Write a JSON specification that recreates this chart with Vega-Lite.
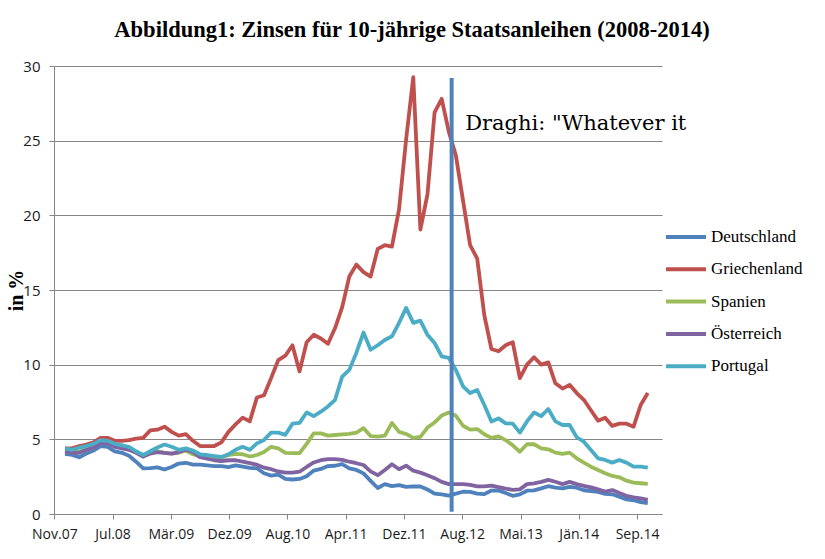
{
  "$schema": "https://vega.github.io/schema/vega-lite/v6.json",
  "width": 608,
  "height": 448,
  "autosize": {"type": "none"},
  "padding": {"left": 54, "top": 66, "right": 163, "bottom": 45},
  "background": "white",
  "title": {
    "text": "Abbildung1: Zinsen für 10-jährige Staatsanleihen (2008-2014)",
    "font": "Liberation Serif",
    "fontSize": 22.5,
    "fontWeight": "bold",
    "color": "#000000",
    "anchor": "middle",
    "dx": 54,
    "offset": 18
  },
  "config": {
    "view": {"stroke": null}
  },
  "datasets": {
    "zinsen": [
      {"t":0,"Deutschland":4.02,"Griechenland":4.40,"Spanien":4.20,"Österreich":4.20,"Portugal":4.40},
      {"t":1,"Deutschland":3.96,"Griechenland":4.40,"Spanien":4.15,"Österreich":4.10,"Portugal":4.30},
      {"t":2,"Deutschland":3.80,"Griechenland":4.55,"Spanien":4.20,"Österreich":4.10,"Portugal":4.45},
      {"t":3,"Deutschland":4.05,"Griechenland":4.65,"Spanien":4.30,"Österreich":4.30,"Portugal":4.55},
      {"t":4,"Deutschland":4.25,"Griechenland":4.80,"Spanien":4.45,"Österreich":4.45,"Portugal":4.70},
      {"t":5,"Deutschland":4.55,"Griechenland":5.10,"Spanien":4.80,"Österreich":4.75,"Portugal":4.95},
      {"t":6,"Deutschland":4.50,"Griechenland":5.10,"Spanien":4.80,"Österreich":4.75,"Portugal":4.90},
      {"t":7,"Deutschland":4.20,"Griechenland":4.90,"Spanien":4.60,"Österreich":4.50,"Portugal":4.70},
      {"t":8,"Deutschland":4.10,"Griechenland":4.90,"Spanien":4.60,"Österreich":4.40,"Portugal":4.60},
      {"t":9,"Deutschland":3.90,"Griechenland":4.95,"Spanien":4.40,"Österreich":4.30,"Portugal":4.50},
      {"t":10,"Deutschland":3.50,"Griechenland":5.05,"Spanien":4.15,"Österreich":4.10,"Portugal":4.20},
      {"t":11,"Deutschland":3.05,"Griechenland":5.10,"Spanien":3.85,"Österreich":3.85,"Portugal":3.95},
      {"t":12,"Deutschland":3.07,"Griechenland":5.60,"Spanien":4.10,"Österreich":4.05,"Portugal":4.20},
      {"t":13,"Deutschland":3.12,"Griechenland":5.65,"Spanien":4.20,"Österreich":4.15,"Portugal":4.45},
      {"t":14,"Deutschland":2.98,"Griechenland":5.85,"Spanien":4.10,"Österreich":4.10,"Portugal":4.65},
      {"t":15,"Deutschland":3.15,"Griechenland":5.50,"Spanien":4.05,"Österreich":4.05,"Portugal":4.50},
      {"t":16,"Deutschland":3.38,"Griechenland":5.25,"Spanien":4.10,"Österreich":4.15,"Portugal":4.30},
      {"t":17,"Deutschland":3.43,"Griechenland":5.35,"Spanien":4.25,"Österreich":4.30,"Portugal":4.40},
      {"t":18,"Deutschland":3.31,"Griechenland":4.90,"Spanien":4.00,"Österreich":4.15,"Portugal":4.25},
      {"t":19,"Deutschland":3.30,"Griechenland":4.55,"Spanien":3.85,"Österreich":3.80,"Portugal":4.00},
      {"t":20,"Deutschland":3.25,"Griechenland":4.55,"Spanien":3.85,"Österreich":3.70,"Portugal":3.95},
      {"t":21,"Deutschland":3.20,"Griechenland":4.55,"Spanien":3.80,"Österreich":3.60,"Portugal":3.88},
      {"t":22,"Deutschland":3.20,"Griechenland":4.80,"Spanien":3.78,"Österreich":3.55,"Portugal":3.82},
      {"t":23,"Deutschland":3.14,"Griechenland":5.50,"Spanien":3.95,"Österreich":3.60,"Portugal":4.00},
      {"t":24,"Deutschland":3.26,"Griechenland":6.00,"Spanien":4.02,"Österreich":3.60,"Portugal":4.30},
      {"t":25,"Deutschland":3.17,"Griechenland":6.45,"Spanien":4.00,"Österreich":3.50,"Portugal":4.50},
      {"t":26,"Deutschland":3.09,"Griechenland":6.20,"Spanien":3.85,"Österreich":3.40,"Portugal":4.30},
      {"t":27,"Deutschland":3.06,"Griechenland":7.80,"Spanien":3.95,"Österreich":3.30,"Portugal":4.73},
      {"t":28,"Deutschland":2.73,"Griechenland":7.95,"Spanien":4.15,"Österreich":3.10,"Portugal":4.96},
      {"t":29,"Deutschland":2.57,"Griechenland":9.10,"Spanien":4.50,"Österreich":3.00,"Portugal":5.45},
      {"t":30,"Deutschland":2.63,"Griechenland":10.30,"Spanien":4.40,"Österreich":2.85,"Portugal":5.45},
      {"t":31,"Deutschland":2.35,"Griechenland":10.60,"Spanien":4.10,"Österreich":2.77,"Portugal":5.30},
      {"t":32,"Deutschland":2.31,"Griechenland":11.30,"Spanien":4.07,"Österreich":2.77,"Portugal":6.05},
      {"t":33,"Deutschland":2.35,"Griechenland":9.55,"Spanien":4.07,"Österreich":2.83,"Portugal":6.10},
      {"t":34,"Deutschland":2.53,"Griechenland":11.50,"Spanien":4.70,"Österreich":3.15,"Portugal":6.80},
      {"t":35,"Deutschland":2.91,"Griechenland":12.00,"Spanien":5.40,"Österreich":3.45,"Portugal":6.55},
      {"t":36,"Deutschland":3.02,"Griechenland":11.75,"Spanien":5.40,"Österreich":3.60,"Portugal":6.85},
      {"t":37,"Deutschland":3.21,"Griechenland":11.40,"Spanien":5.25,"Österreich":3.68,"Portugal":7.20},
      {"t":38,"Deutschland":3.23,"Griechenland":12.45,"Spanien":5.29,"Österreich":3.68,"Portugal":7.65},
      {"t":39,"Deutschland":3.34,"Griechenland":13.85,"Spanien":5.33,"Österreich":3.62,"Portugal":9.20},
      {"t":40,"Deutschland":3.06,"Griechenland":15.90,"Spanien":5.36,"Österreich":3.50,"Portugal":9.65},
      {"t":41,"Deutschland":2.95,"Griechenland":16.70,"Spanien":5.45,"Österreich":3.40,"Portugal":10.80},
      {"t":42,"Deutschland":2.72,"Griechenland":16.20,"Spanien":5.75,"Österreich":3.28,"Portugal":12.15},
      {"t":43,"Deutschland":2.22,"Griechenland":15.90,"Spanien":5.22,"Österreich":2.85,"Portugal":11.00},
      {"t":44,"Deutschland":1.74,"Griechenland":17.75,"Spanien":5.18,"Österreich":2.60,"Portugal":11.30},
      {"t":45,"Deutschland":2.00,"Griechenland":18.00,"Spanien":5.25,"Österreich":2.95,"Portugal":11.65},
      {"t":46,"Deutschland":1.87,"Griechenland":17.90,"Spanien":6.10,"Österreich":3.33,"Portugal":11.90},
      {"t":47,"Deutschland":1.93,"Griechenland":20.40,"Spanien":5.50,"Österreich":3.00,"Portugal":12.80},
      {"t":48,"Deutschland":1.82,"Griechenland":25.10,"Spanien":5.36,"Österreich":3.24,"Portugal":13.80},
      {"t":49,"Deutschland":1.85,"Griechenland":29.25,"Spanien":5.10,"Österreich":2.90,"Portugal":12.80},
      {"t":50,"Deutschland":1.84,"Griechenland":19.05,"Spanien":5.17,"Österreich":2.77,"Portugal":12.95},
      {"t":51,"Deutschland":1.64,"Griechenland":21.40,"Spanien":5.79,"Österreich":2.60,"Portugal":12.00},
      {"t":52,"Deutschland":1.37,"Griechenland":26.90,"Spanien":6.13,"Österreich":2.40,"Portugal":11.45},
      {"t":53,"Deutschland":1.32,"Griechenland":27.80,"Spanien":6.59,"Österreich":2.15,"Portugal":10.55},
      {"t":54,"Deutschland":1.23,"Griechenland":25.60,"Spanien":6.79,"Österreich":2.00,"Portugal":10.45},
      {"t":55,"Deutschland":1.36,"Griechenland":24.00,"Spanien":6.58,"Österreich":2.00,"Portugal":9.65},
      {"t":56,"Deutschland":1.49,"Griechenland":21.00,"Spanien":5.91,"Österreich":2.00,"Portugal":8.55},
      {"t":57,"Deutschland":1.48,"Griechenland":18.00,"Spanien":5.65,"Österreich":1.95,"Portugal":8.10},
      {"t":58,"Deutschland":1.37,"Griechenland":17.10,"Spanien":5.69,"Österreich":1.85,"Portugal":8.30},
      {"t":59,"Deutschland":1.33,"Griechenland":13.30,"Spanien":5.34,"Österreich":1.85,"Portugal":7.30},
      {"t":60,"Deutschland":1.57,"Griechenland":11.05,"Spanien":5.10,"Österreich":1.90,"Portugal":6.20},
      {"t":61,"Deutschland":1.58,"Griechenland":10.90,"Spanien":5.20,"Österreich":1.80,"Portugal":6.40},
      {"t":62,"Deutschland":1.40,"Griechenland":11.30,"Spanien":4.95,"Österreich":1.70,"Portugal":6.07},
      {"t":63,"Deutschland":1.22,"Griechenland":11.50,"Spanien":4.60,"Österreich":1.62,"Portugal":6.05},
      {"t":64,"Deutschland":1.31,"Griechenland":9.10,"Spanien":4.17,"Österreich":1.65,"Portugal":5.45},
      {"t":65,"Deutschland":1.56,"Griechenland":10.00,"Spanien":4.67,"Österreich":2.00,"Portugal":6.20},
      {"t":66,"Deutschland":1.58,"Griechenland":10.50,"Spanien":4.67,"Österreich":2.05,"Portugal":6.80},
      {"t":67,"Deutschland":1.72,"Griechenland":10.00,"Spanien":4.40,"Österreich":2.15,"Portugal":6.55},
      {"t":68,"Deutschland":1.86,"Griechenland":10.15,"Spanien":4.33,"Österreich":2.28,"Portugal":7.03},
      {"t":69,"Deutschland":1.76,"Griechenland":8.75,"Spanien":4.11,"Österreich":2.16,"Portugal":6.20},
      {"t":70,"Deutschland":1.71,"Griechenland":8.40,"Spanien":4.02,"Österreich":2.00,"Portugal":5.96},
      {"t":71,"Deutschland":1.82,"Griechenland":8.65,"Spanien":4.11,"Österreich":2.15,"Portugal":5.96},
      {"t":72,"Deutschland":1.76,"Griechenland":8.10,"Spanien":3.73,"Österreich":2.00,"Portugal":5.14},
      {"t":73,"Deutschland":1.59,"Griechenland":7.65,"Spanien":3.44,"Österreich":1.88,"Portugal":4.84},
      {"t":74,"Deutschland":1.54,"Griechenland":6.95,"Spanien":3.17,"Österreich":1.79,"Portugal":4.29},
      {"t":75,"Deutschland":1.48,"Griechenland":6.25,"Spanien":2.95,"Österreich":1.65,"Portugal":3.73},
      {"t":76,"Deutschland":1.35,"Griechenland":6.45,"Spanien":2.73,"Österreich":1.50,"Portugal":3.62},
      {"t":77,"Deutschland":1.32,"Griechenland":5.90,"Spanien":2.55,"Österreich":1.60,"Portugal":3.44},
      {"t":78,"Deutschland":1.16,"Griechenland":6.05,"Spanien":2.46,"Österreich":1.40,"Portugal":3.62},
      {"t":79,"Deutschland":0.98,"Griechenland":6.05,"Spanien":2.23,"Österreich":1.22,"Portugal":3.44},
      {"t":80,"Deutschland":0.92,"Griechenland":5.85,"Spanien":2.10,"Österreich":1.12,"Portugal":3.17},
      {"t":81,"Deutschland":0.80,"Griechenland":7.30,"Spanien":2.06,"Österreich":1.05,"Portugal":3.17},
      {"t":82,"Deutschland":0.72,"Griechenland":8.10,"Spanien":2.01,"Österreich":0.94,"Portugal":3.10}
    ],
    "draghi": [
      {"t": 54.4, "y0": 0.15, "y1": 29.2, "tx": 56.3, "ty": 26.1, "label": "Draghi: \"Whatever it"}
    ]
  },
  "layer": [
    {
      "data": {"name": "zinsen"},
      "transform": [
        {"fold": ["Deutschland", "Griechenland", "Spanien", "Österreich", "Portugal"], "as": ["land", "v"]}
      ],
      "mark": {"type": "line", "strokeWidth": 3.8, "strokeJoin": "round"},
      "encoding": {
        "x": {
          "field": "t",
          "type": "quantitative",
          "scale": {"domain": [-1.55, 84], "nice": false, "zero": false},
          "axis": {
            "title": null,
            "grid": false,
            "values": [-1.5, 6.69, 14.89, 23.09, 31.29, 39.49, 47.69, 55.89, 64.09, 72.29, 80.49],
            "labelExpr": "['Nov.07','Jul.08','Mär.09','Dez.09','Aug.10','Apr.11','Dez.11','Aug.12','Mai.13','Jän.14','Sep.14'][round((datum.value + 1.5) / 8.2)]",
            "domainColor": "#868686",
            "tickColor": "#868686",
            "tickSize": 5,
            "labelFont": "Open Sans",
            "labelFontSize": 14,
            "labelColor": "#1a1a1a",
            "labelPadding": 8,
            "labelFlush": false,
            "labelOverlap": false
          }
        },
        "y": {
          "field": "v",
          "type": "quantitative",
          "scale": {"domain": [0, 30], "nice": false},
          "axis": {
            "title": "in %",
            "titleFont": "Liberation Serif",
            "titleFontSize": 20,
            "titleFontWeight": "bold",
            "titleColor": "#000000",
            "titlePadding": -4,
            "values": [0, 5, 10, 15, 20, 25, 30],
            "grid": true,
            "gridColor": "#868686",
            "domainColor": "#868686",
            "tickColor": "#868686",
            "tickSize": 5,
            "labelFont": "Open Sans",
            "labelFontSize": 15,
            "labelColor": "#1a1a1a",
            "labelPadding": 9
          }
        },
        "color": {
          "field": "land",
          "type": "nominal",
          "scale": {
            "domain": ["Deutschland", "Griechenland", "Spanien", "Österreich", "Portugal"],
            "range": ["#4F81BD", "#C0504D", "#9BBB59", "#8064A2", "#4BACC6"]
          },
          "legend": {
            "title": null,
            "orient": "none",
            "legendX": 610,
            "legendY": 155,
            "padding": 0,
            "symbolType": "stroke",
            "symbolSize": 1600,
            "symbolStrokeWidth": 4,
            "clipHeight": 32,
            "rowPadding": 0.3,
            "labelFont": "Liberation Serif",
            "labelFontSize": 17,
            "labelColor": "#000000",
            "labelOffset": 3
          }
        }
      }
    },
    {
      "data": {"name": "draghi"},
      "mark": {"type": "rule", "strokeWidth": 4, "color": "#4F81BD"},
      "encoding": {
        "x": {"field": "t", "type": "quantitative"},
        "y": {"field": "y0", "type": "quantitative"},
        "y2": {"field": "y1"}
      }
    },
    {
      "data": {"name": "draghi"},
      "mark": {"type": "text", "align": "left", "baseline": "middle", "font": "DejaVu Serif", "fontSize": 21, "color": "#000000"},
      "encoding": {
        "x": {"field": "tx", "type": "quantitative"},
        "y": {"field": "ty", "type": "quantitative"},
        "text": {"field": "label"}
      }
    }
  ]
}
